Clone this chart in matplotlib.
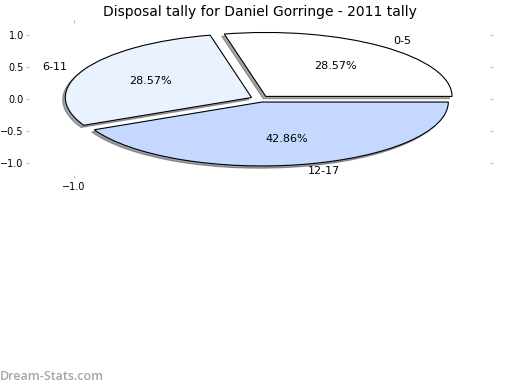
import matplotlib
matplotlib.use("Agg")
import matplotlib.pyplot as plt
from matplotlib.ticker import FuncFormatter

# disposal tally buckets and counts (percentages 28.57 / 28.57 / 42.86)
labels = ["0-5", "6-11", "12-17"]
counts = [2, 2, 3]
colours = ["#FFFFFF", "#EBF2FF", "#C5D8FF"]
explode = [0.05, 0.05, 0.05]


def one_dp(v, pos):
    return ("%.1f" % v).replace("-", "\u2212")


fig = plt.figure(figsize=(5.2, 3.9), dpi=100)
ax = fig.add_axes([29 / 520, 1 - 175 / 390, 461 / 520, 152.5 / 390])

wedges, texts, autotexts = ax.pie(counts, labels=labels, colors=colours,
                                  explode=explode, autopct="%1.2f%%",
                                  shadow={"ox": -0.01, "oy": -0.025},
                                  startangle=0,
                                  wedgeprops={"edgecolor": "black", "linewidth": 0.8},
                                  textprops={"fontsize": 8})
ax.set_aspect("auto")
ax.set_xlim(-1.24, 1.235)
ax.set_ylim(-1.19, 1.195)
ax.set_frame_on(False)

ax.set_xticks([-1.0])
ax.set_yticks([-1.0, -0.5, 0.0, 0.5, 1.0])
ax.xaxis.set_major_formatter(FuncFormatter(one_dp))
ax.yaxis.set_major_formatter(FuncFormatter(one_dp))
ax.tick_params(axis="both", labelsize=7, color="#bbbbbb", length=2.2, pad=1.6)
ax.tick_params(axis="x", top=True, bottom=True, pad=3)
ax.tick_params(axis="y", left=True, right=True)

ax.set_title("Disposal tally for Daniel Gorringe - 2011 tally", fontsize=10, pad=5)

fig.text(0.0, 0.018, "Dream-Stats.com", fontsize=9, color="#a6a6a6",
         fontfamily="Open Sans", fontweight="semibold", ha="left", va="bottom")

fig.savefig("out.png", dpi=100)
